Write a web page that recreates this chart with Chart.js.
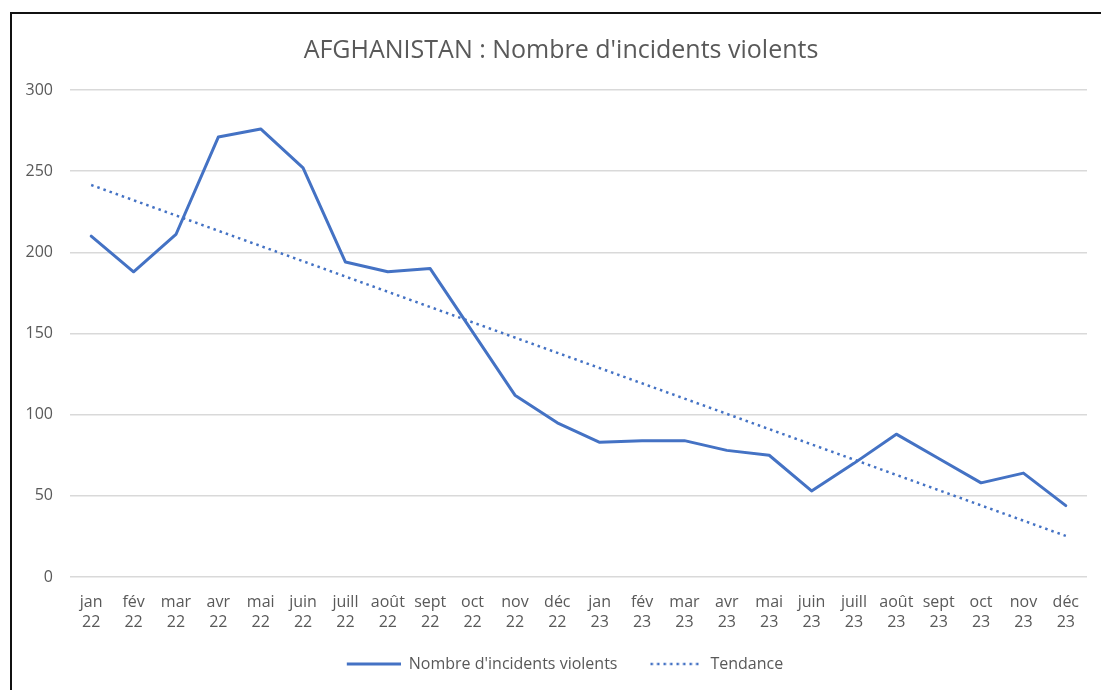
<!DOCTYPE html>
<html>
<head>
<meta charset="utf-8">
<script src="https://cdn.jsdelivr.net/npm/chart.js@4"></script>
<style>
  html, body { margin: 0; padding: 0; background: #fff; width: 1101px; height: 690px; overflow: hidden; }
  #frame { position: absolute; left: 10px; top: 12px; width: 1100px; height: 690px;
           border-left: 2px solid #111; border-top: 2px solid #111; }
  #wrap { position: absolute; left: 12px; top: 14px; width: 1098px; height: 676px; }
</style>
</head>
<body>
<div id="frame"></div>
<div id="wrap"><canvas id="c"></canvas></div>
<script>
const categories = [
  ['jan','22'],['fév','22'],['mar','22'],['avr','22'],['mai','22'],['juin','22'],
  ['juill','22'],['août','22'],['sept','22'],['oct','22'],['nov','22'],['déc','22'],
  ['jan','23'],['fév','23'],['mar','23'],['avr','23'],['mai','23'],['juin','23'],
  ['juill','23'],['août','23'],['sept','23'],['oct','23'],['nov','23'],['déc','23']
];
const incidents = [210, 188, 211, 271, 276, 252, 194, 188, 190, 151, 112, 95,
                   83, 84, 84, 78, 75, 53, 70, 88, 73, 58, 64, 44];
// Trend line: start and end values (straight line)
const trend = [241.5, null, null, null, null, null, null, null, null, null, null, null,
               null, null, null, null, null, null, null, null, null, null, null, 25.3];
const yTicks = [0, 50, 100, 150, 200, 250, 300];

const FONT = '"Open Sans", "Noto Sans", sans-serif';
const TXT = '#595959';
const BLUE = '#4472C4';

function legendSwatch(dash, width, x0, x1) {
  const cv = document.createElement('canvas');
  cv.width = 62; cv.height = 4;
  const g = cv.getContext('2d');
  g.strokeStyle = BLUE; g.lineWidth = width;
  g.setLineDash(dash);
  g.beginPath(); g.moveTo(x0, 2); g.lineTo(x1, 2); g.stroke();
  return cv;
}
const solidSwatch = legendSwatch([], 3, 8, 62);
const dotSwatch = legendSwatch([2.5, 4], 2.5, 10, 59);

new Chart(document.getElementById('c'), {
  type: 'line',
  data: {
    labels: categories,
    datasets: [
      { label: "Nombre d'incidents violents", data: incidents, borderColor: BLUE, backgroundColor: BLUE,
        borderWidth: 3, pointRadius: 0, tension: 0, borderJoinStyle: 'round', borderCapStyle: 'round',
        pointStyle: solidSwatch },
      { label: 'Tendance', data: trend, borderColor: BLUE, backgroundColor: BLUE, spanGaps: true,
        borderWidth: 2.5, borderDash: [2.5, 4], pointRadius: 0, tension: 0, pointStyle: dotSwatch }
    ]
  },
  options: {
    responsive: true,
    maintainAspectRatio: false,
    animation: false,
    layout: { padding: { left: 0, right: 0, top: 0, bottom: 8 } },
    plugins: {
      title: { display: true, text: "AFGHANISTAN : Nombre d'incidents violents", color: TXT,
               font: { family: FONT, size: 25, weight: 'normal', lineHeight: 1.2 }, padding: { top: 22, bottom: 24 } },
      legend: { position: 'bottom',
        labels: { color: TXT, font: { family: FONT, size: 16 }, usePointStyle: true,
                  pointStyleWidth: 62, boxWidth: 62, boxHeight: 16, padding: 23 } },
      tooltip: { enabled: false }
    },
    scales: {
      x: {
        offset: true,
        afterFit: (s) => { s.height = 56; },
        grid: { display: false, drawTicks: false },
        border: { display: false },
        ticks: { color: TXT, font: { family: FONT, size: 16, lineHeight: 1.25 }, maxRotation: 0, autoSkip: false, padding: 15 }
      },
      y: {
        min: 0, max: 300,
        afterBuildTicks: (s) => { s.ticks = yTicks.map(v => ({ value: v })); },
        afterFit: (s) => { s.width = 58; },
        grid: { color: '#D9D9D9', lineWidth: 1.5, drawTicks: false },
        border: { display: false },
        ticks: { color: TXT, font: { family: FONT, size: 16 }, padding: 17 }
      },
      yPad: {
        position: 'right',
        afterFit: (s) => { s.width = 23; },
        grid: { display: false, drawTicks: false },
        border: { display: false },
        ticks: { display: false }
      }
    }
  }
});
</script>
</body>
</html>
